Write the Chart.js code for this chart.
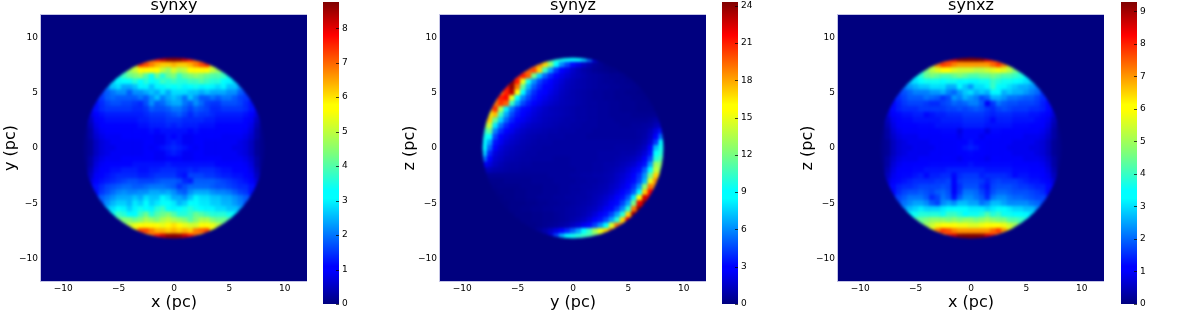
<!DOCTYPE html>
<html>
<head>
<meta charset="utf-8">
<script src="https://cdn.jsdelivr.net/npm/chart.js@4"></script>
<style>
html, body { margin: 0; padding: 0; background: #fff; overflow: hidden; }
canvas { position: absolute; top: 0; }
</style>
</head>
<body>
<canvas id="plot1"></canvas><canvas id="bar1"></canvas>
<canvas id="plot2"></canvas><canvas id="bar2"></canvas>
<canvas id="plot3"></canvas><canvas id="bar3"></canvas>
<script>
var axisTicks = [-10, -5, 0, 5, 10];
var barTicks1 = [0, 1, 2, 3, 4, 5, 6, 7, 8];
var barTicks2 = [0, 3, 6, 9, 12, 15, 18, 21, 24];
var barTicks3 = [0, 1, 2, 3, 4, 5, 6, 7, 8, 9];
var barMax1 = 8.76;
var barMax2 = 24.3;
var barMax3 = 9.29;

// colour stops of the jet map
var jetStops = [
    [0, '#00007f'], [0.11, '#0000ff'], [0.125, '#0000ff'], [0.35, '#00ffff'], [0.375, '#00ffff'],
    [0.5, '#7dff7a'], [0.64, '#ffff00'], [0.66, '#ffff00'], [0.89, '#ff0000'], [1, '#7f0000']
];

// rows run from the top of the disc to the bottom, 0.5 pc apart, centred on 0. values in tenths
var xyRows = [
    [64,70,76,82,86,87,86,82,76,70,64],
    [44,58,74,72,68,64,62,62,64,62,62,64,68,72,74,58,44],
    [40,46,50,56,58,58,56,50,46,52,48,50,56,58,58,56,50,46,40],
    [30,34,38,42,44,46,40,34,42,36,42,44,38,42,44,46,44,42,40,40,38,34,30],
    [24,28,30,32,32,36,32,36,32,34,38,36,38,36,36,38,38,40,38,36,36,32,30,28,24],
    [20,22,26,28,24,24,26,30,30,26,30,30,34,32,34,30,32,34,30,32,30,28,30,26,26,22,20],
    [16,18,20,22,22,18,22,22,24,26,24,28,24,28,28,28,26,26,24,26,24,24,24,22,22,18,16],
    [14,15,18,19,18,18,18,18,20,18,22,26,21,24,26,24,20,26,22,18,18,20,18,20,20,18,16,15,14],
    [12,14,16,17,17,16,16,15,14,17,22,18,19,22,24,24,20,18,22,19,16,15,15,17,17,17,16,14,12],
    [10,12,14,15,15,15,15,15,14,14,15,18,17,17,18,20,20,18,16,18,17,16,14,14,15,15,15,15,14,12,10],
    [7,10,12,13,13,13,13,13,13,13,14,15,15,15,16,17,18,16,14,16,15,15,14,13,13,13,13,13,12,10,7],
    [1,5,9,11,12,12,12,12,12,12,13,13,14,14,14,15,15,15,14,14,14,14,13,13,12,12,12,12,12,11,9,5,1],
    [1,4,8,10,11,11,11,11,11,11,12,12,13,13,13,14,13,14,13,13,13,12,12,12,11,11,11,11,11,10,8,4,1],
    [1,3,7,9,10,10,10,10,10,11,11,11,12,11,12,12,12,12,12,11,12,11,11,11,10,10,10,10,10,9,7,3,1],
    [1,3,6,8,9,9,9,10,10,10,10,10,10,9,9,12,10,12,9,9,10,10,10,10,10,9,9,9,9,8,6,3,1],
    [1,2,5,7,8,9,9,9,9,9,9,10,10,9,9,12,13,12,9,9,10,10,9,9,9,9,9,9,8,7,5,2,1],
    [1,2,5,7,8,8,9,9,9,9,9,10,9,10,12,13,14,13,12,10,9,10,9,9,9,9,9,8,8,7,5,2,1],
    [1,2,5,7,8,9,9,9,9,9,9,10,10,9,9,12,13,12,9,9,10,10,9,9,9,9,9,9,8,7,5,2,1],
    [1,3,6,8,9,9,9,10,10,10,10,10,10,9,9,11,10,11,9,9,10,10,10,10,10,9,9,9,9,8,6,3,1],
    [1,3,7,9,10,11,11,11,11,12,12,12,12,12,12,13,12,12,12,12,12,12,12,12,11,11,10,10,10,9,7,3,1],
    [1,4,8,10,11,12,12,13,13,13,12,12,13,13,14,14,14,13,13,14,13,14,14,14,13,12,12,11,11,10,8,4,1],
    [1,5,9,11,12,13,14,14,14,14,13,13,14,15,15,15,15,13,12,16,16,16,15,15,14,13,13,12,12,11,9,5,1],
    [7,10,12,13,14,15,16,17,17,16,16,16,17,18,18,18,17,14,13,18,18,18,18,17,16,15,14,13,12,10,7],
    [10,12,14,16,17,18,19,19,18,18,19,20,20,20,19,18,15,17,19,19,19,19,18,17,17,16,15,14,14,12,10],
    [12,15,17,19,21,22,21,21,22,22,24,24,23,24,22,19,18,22,24,24,24,22,21,21,20,18,16,15,12],
    [15,18,20,22,24,24,24,26,24,28,26,26,30,28,24,24,22,26,30,28,28,26,26,24,24,22,20,18,15],
    [18,22,25,27,27,25,29,27,31,27,29,33,33,29,25,27,31,31,29,29,27,27,25,25,23,21,18],
    [22,26,28,32,30,27,30,34,32,30,36,38,32,30,32,34,36,34,32,30,30,28,28,26,26,24,22],
    [28,34,38,36,32,32,38,42,36,40,42,44,40,36,36,38,42,40,38,36,36,36,34,30,28],
    [36,42,44,44,42,44,48,46,44,48,50,48,46,44,40,44,48,48,44,42,42,40,36],
    [44,50,54,56,58,58,56,54,58,60,58,54,52,52,56,56,54,50,44],
    [54,60,72,72,68,64,64,62,64,62,64,62,68,70,72,58,52],
    [64,70,76,82,86,87,86,82,76,70,62]
];

var yzRows = [
    [130,110,100,95,92,90,85,75,55,25,8],
    [170,185,185,170,125,85,60,45,32,22,15,10,6,4,2,1,1],
    [190,195,200,170,105,65,42,30,22,16,12,9,7,5,4,3,2,2,1],
    [180,205,210,195,120,75,52,38,30,22,18,14,12,10,8,7,6,5,4,4,3,2,2],
    [190,240,210,150,95,62,45,35,28,22,18,14,12,10,9,8,7,6,5,5,4,4,3,3,2],
    [200,210,240,190,115,70,50,38,30,25,20,16,13,11,10,9,8,7,6,6,5,5,4,4,3,3,2],
    [190,210,230,155,85,55,40,32,27,22,18,14,12,10,9,8,7,6,6,5,5,4,4,3,3,2,2],
    [180,210,215,150,90,60,45,35,28,23,19,16,13,11,10,9,8,7,6,6,5,5,4,4,4,3,3,2,2],
    [190,205,195,105,66,46,36,29,23,19,16,14,12,11,10,9,8,7,7,6,6,5,5,4,4,4,3,3,2],
    [170,205,135,82,56,40,32,26,21,18,15,13,12,11,10,9,8,8,7,7,6,6,5,5,4,4,4,3,3,3,2],
    [165,175,105,66,46,35,28,23,19,16,14,13,12,11,10,9,8,8,7,7,6,6,5,5,5,5,4,4,4,4,4],
    [165,170,115,76,52,38,29,24,20,17,15,13,12,11,10,9,9,8,8,7,7,6,6,6,5,5,5,5,5,5,6,8,8],
    [130,140,80,54,38,29,23,19,16,14,13,12,11,10,9,9,8,8,7,7,7,6,6,6,6,5,5,6,6,7,8,12,16],
    [105,115,58,40,29,23,18,15,13,12,11,10,9,9,8,8,8,7,7,7,6,6,6,6,6,6,6,6,7,8,12,20,34],
    [95,85,44,30,22,18,15,13,11,10,9,9,8,8,8,7,7,7,7,6,6,6,6,6,6,6,6,6,7,9,14,26,55],
    [88,65,34,24,18,15,13,11,10,9,8,8,8,7,7,7,7,7,7,7,7,7,7,7,7,7,7,7,8,11,18,42,85],
    [85,52,26,19,15,13,11,10,9,8,8,7,7,7,7,7,7,7,7,7,7,7,7,7,8,8,8,8,10,14,26,70,95],
    [75,38,20,16,13,11,10,9,8,8,7,7,7,7,7,7,7,7,7,7,7,8,8,8,8,9,9,10,13,19,34,85,100],
    [55,28,17,14,11,10,9,8,8,7,7,7,7,6,6,6,7,7,7,7,7,8,8,8,9,10,11,13,17,25,45,100,110],
    [30,20,14,11,9,8,8,7,7,6,6,6,6,6,6,6,7,7,7,7,8,8,9,9,10,12,14,17,23,34,65,130,125],
    [14,12,10,9,8,7,7,6,6,6,6,6,6,6,6,6,6,7,7,7,8,8,9,10,12,14,18,23,32,50,85,140,130],
    [5,5,5,5,5,5,5,5,5,5,5,5,6,6,6,6,7,7,8,8,9,9,10,11,14,17,21,28,40,62,120,170,150],
    [3,3,3,4,4,4,4,4,5,5,5,5,6,6,6,6,7,7,8,8,9,10,12,15,19,24,32,45,70,150,185],
    [2,2,3,3,3,3,4,4,4,4,5,5,5,6,6,7,7,8,8,9,10,11,14,17,22,29,40,62,125,190,185],
    [1,2,2,2,3,3,4,4,4,5,5,5,6,6,7,7,8,9,10,11,13,16,21,27,36,50,85,170,215],
    [1,1,2,2,3,3,4,4,5,5,5,6,6,7,7,8,8,9,11,13,16,20,26,34,48,80,160,225,220],
    [1,1,2,2,2,3,3,4,4,5,5,6,6,7,8,9,10,12,15,19,25,32,45,65,120,220,240],
    [1,1,2,2,3,3,4,4,5,5,6,6,7,8,9,10,12,14,18,24,31,42,60,100,190,240,230],
    [1,1,2,2,2,3,3,4,4,5,6,7,8,9,11,14,19,25,33,45,65,100,170,235,230],
    [1,1,2,2,3,3,4,4,5,6,7,9,11,14,19,26,34,46,65,100,170,215,205],
    [1,2,2,3,4,5,6,8,10,14,18,24,32,44,62,90,145,190,185],
    [1,3,5,9,14,20,28,38,50,65,85,105,130,150,170,190,185],
    [8,20,45,70,85,95,100,105,110,120,140]
];

var xzRows = [
    [68,80,86,92,93,93,93,92,86,80,68],
    [46,56,72,78,76,72,70,70,70,70,70,70,74,78,72,56,46],
    [40,46,52,56,60,60,56,54,54,54,52,52,54,56,58,56,52,46,40],
    [30,34,38,44,46,44,42,42,44,46,44,42,42,44,44,46,44,42,42,40,38,34,30],
    [24,28,30,34,36,36,36,34,36,36,32,34,32,32,36,36,40,38,36,36,34,32,30,28,24],
    [20,22,24,26,28,28,30,30,30,26,26,32,28,24,30,30,32,40,34,32,30,28,26,26,24,22,20],
    [16,18,20,22,22,22,24,24,26,22,20,24,28,30,26,28,26,32,32,26,28,26,26,24,22,20,16],
    [14,15,17,19,19,19,21,20,19,16,18,24,22,26,24,22,18,20,26,26,24,21,21,20,19,19,17,15,14],
    [12,14,16,17,17,17,16,15,15,17,18,20,19,20,22,22,19,10,16,21,19,18,18,17,17,17,16,14,12],
    [9,12,14,15,15,15,16,16,16,16,16,17,17,18,17,18,19,18,16,15,17,18,17,16,16,16,15,15,14,12,9],
    [7,10,12,13,13,14,14,12,13,14,14,15,15,15,16,16,16,16,15,14,15,15,15,14,14,14,13,13,12,10,7],
    [1,5,9,11,12,12,13,13,13,13,13,14,14,14,14,15,15,15,15,14,12,14,14,14,13,13,13,13,12,11,9,5,1],
    [1,4,8,10,11,11,11,12,12,12,13,13,13,13,13,14,14,14,14,13,13,13,13,13,12,12,12,11,11,10,8,4,1],
    [1,3,7,9,10,10,10,11,11,11,11,12,12,12,8,12,12,12,12,8,12,12,11,11,11,11,10,10,10,9,7,3,1],
    [1,3,6,8,9,9,9,10,10,10,10,11,11,11,9,12,12,12,9,11,11,11,10,10,10,10,9,9,9,8,6,3,1],
    [1,2,5,7,8,9,9,9,9,10,10,10,10,10,11,11,13,11,11,10,10,10,10,10,9,9,9,9,8,7,5,2,1],
    [1,2,5,7,8,8,9,9,9,9,10,10,10,10,11,13,14,13,11,10,10,10,10,9,9,9,9,8,8,7,5,2,1],
    [1,2,5,7,8,9,9,9,9,10,10,10,10,10,11,11,12,11,11,10,10,10,10,10,9,9,9,9,8,7,5,2,1],
    [1,3,6,8,9,9,9,10,10,10,10,11,11,10,9,11,11,11,10,9,11,11,10,10,10,10,9,9,9,8,6,3,1],
    [1,3,7,9,10,10,11,11,11,12,12,12,12,12,12,12,13,12,12,12,12,12,12,12,11,11,11,10,10,9,7,3,1],
    [1,4,8,10,11,11,12,12,13,13,13,13,14,14,14,14,14,14,14,13,13,13,13,13,12,12,12,11,11,10,8,4,1],
    [1,5,9,11,12,12,13,14,12,14,14,15,15,12,15,16,16,16,14,15,15,15,15,14,12,13,13,12,12,11,9,5,1],
    [7,10,12,13,14,15,15,15,15,16,16,17,11,16,17,17,17,16,14,16,17,16,16,16,15,14,13,13,12,10,7],
    [10,12,14,15,15,16,17,17,17,17,18,17,10,15,18,18,18,15,13,17,18,18,18,17,16,16,15,14,14,12,10],
    [12,15,17,18,18,19,18,17,19,20,18,10,16,21,21,20,17,14,18,20,20,19,18,18,18,17,16,15,12],
    [15,17,19,21,21,21,19,15,17,21,19,13,19,23,23,21,19,15,21,23,23,21,20,20,19,18,17,17,15],
    [18,21,23,25,25,23,19,17,23,25,23,27,27,25,25,21,23,27,27,25,23,23,23,23,21,20,18],
    [22,24,27,29,31,29,29,29,31,33,33,33,33,31,31,31,29,31,35,33,31,29,29,27,27,24,22],
    [28,32,36,38,38,38,38,36,40,40,38,34,36,36,38,42,38,40,36,36,34,34,32,30,28],
    [36,42,44,46,48,48,48,46,48,46,48,48,46,48,50,48,46,46,42,42,40,38,36],
    [44,50,54,58,60,60,60,58,58,56,56,58,60,60,60,58,54,50,44],
    [54,62,72,78,76,72,70,70,70,70,70,70,74,78,70,62,52],
    [68,80,86,92,93,93,93,92,86,80,68]
];

var FONT = '"DejaVu Sans", sans-serif';
var CELL = 0.5;
var DISC_R = 8.15;
var NAVY = '#00007f';

function hexToRgb(h) {
    return [parseInt(h.substr(1, 2), 16), parseInt(h.substr(3, 2), 16), parseInt(h.substr(5, 2), 16)];
}

function jetColor(f) {
    for (var i = 1; i < jetStops.length; i++) {
        if (f <= jetStops[i][0]) {
            var a = jetStops[i - 1], b = jetStops[i];
            var t = (f - a[0]) / (b[0] - a[0]);
            var ca = hexToRgb(a[1]), cb = hexToRgb(b[1]);
            return 'rgb(' + Math.round(ca[0] + (cb[0] - ca[0]) * t) + ',' +
                Math.round(ca[1] + (cb[1] - ca[1]) * t) + ',' +
                Math.round(ca[2] + (cb[2] - ca[2]) * t) + ')';
        }
    }
    return jetStops[jetStops.length - 1][1];
}

function rowsToCells(rows) {
    var cells = [];
    rows.forEach(function (row, r) {
        row.forEach(function (v, i) {
            cells.push({ x: (i - (row.length - 1) / 2) * CELL, y: 8 - r * CELL, v: v / 10 });
        });
    });
    return cells;
}

function minusLabel(v) {
    return v < 0 ? '\u2212' + Math.abs(v) : String(v);
}

// navy ground, cells clipped to the disc, soft image look over them, pale frame last
var heatPlugin = {
    id: 'heatGround',
    beforeDatasetsDraw: function (chart) {
        var a = chart.chartArea, c = chart.ctx, sx = chart.scales.x, sy = chart.scales.y;
        c.save();
        c.fillStyle = NAVY;
        c.fillRect(a.left, a.top, a.width, a.height);
        c.beginPath();
        c.arc(sx.getPixelForValue(0), sy.getPixelForValue(0),
            sx.getPixelForValue(DISC_R) - sx.getPixelForValue(0), 0, Math.PI * 2);
        c.clip();
    },
    afterDatasetsDraw: function (chart) {
        var a = chart.chartArea, c = chart.ctx;
        c.restore();
        c.save();
        c.beginPath();
        c.rect(a.left, a.top, a.width, a.height);
        c.clip();
        c.filter = 'blur(1.5px)';
        c.drawImage(chart.canvas, a.left, a.top, a.width, a.height, a.left, a.top, a.width, a.height);
        c.restore();
        c.save();
        c.strokeStyle = '#c4c4e6';
        c.lineWidth = 1;
        c.strokeRect(a.left - 0.5, a.top - 0.5, a.width + 1, a.height + 1);
        c.restore();
    }
};

var barTickPlugin = {
    id: 'barInnerTicks',
    afterDraw: function (chart) {
        var s = chart.scales.y, a = chart.chartArea, c = chart.ctx;
        c.save();
        c.strokeStyle = 'rgba(0,0,0,0.7)';
        c.lineWidth = 1;
        s.ticks.forEach(function (t) {
            var y = Math.round(s.getPixelForValue(t.value)) + 0.5;
            c.beginPath();
            c.moveTo(a.right - 3, y);
            c.lineTo(a.right, y);
            c.stroke();
        });
        c.restore();
    }
};

function place(id, left, width) {
    var el = document.getElementById(id);
    el.style.left = left + 'px';
    el.style.width = width + 'px';
    el.style.height = '313px';
    el.width = width;
    el.height = 313;
    return el;
}

function drawPanel(id, left, rows, vmax, title, xName, yName) {
    new Chart(place(id, left, 307), {
        type: 'scatter',
        data: {
            datasets: [{
                data: rowsToCells(rows),
                pointStyle: 'rect',
                borderWidth: 0,
                pointRadius: function (ctx) {
                    var s = ctx.chart.scales.x;
                    var w = Math.abs(s.getPixelForValue(CELL) - s.getPixelForValue(0));
                    return (w + 0.6) / Math.SQRT2;
                },
                backgroundColor: function (ctx) {
                    return ctx.raw ? jetColor(ctx.raw.v / vmax) : NAVY;
                }
            }]
        },
        plugins: [heatPlugin],
        options: {
            responsive: false,
            animation: false,
            events: [],
            layout: { padding: 0 },
            plugins: {
                legend: { display: false },
                tooltip: { enabled: false },
                title: {
                    display: true,
                    text: title,
                    color: '#000',
                    fullSize: false,
                    font: { family: FONT, size: 16, weight: 'normal', lineHeight: 0.75 },
                    padding: { top: 0, bottom: 3 }
                }
            },
            scales: {
                x: {
                    type: 'linear',
                    min: -12,
                    max: 12,
                    afterBuildTicks: function (s) {
                        s.ticks = axisTicks.map(function (v) { return { value: v }; });
                    },
                    afterFit: function (s) { s.height = 32; },
                    grid: { display: false, drawTicks: false },
                    border: { display: false },
                    ticks: {
                        color: '#000',
                        padding: 2,
                        maxRotation: 0,
                        font: { family: FONT, size: 9 },
                        callback: minusLabel
                    },
                    title: {
                        display: true,
                        text: xName,
                        color: '#000',
                        font: { family: FONT, size: 16 },
                        padding: { top: 0, bottom: 1 }
                    }
                },
                y: {
                    type: 'linear',
                    min: -12,
                    max: 12,
                    afterBuildTicks: function (s) {
                        s.ticks = axisTicks.map(function (v) { return { value: v }; });
                    },
                    afterFit: function (s) { s.width = 41; },
                    grid: { display: false, drawTicks: false },
                    border: { display: false },
                    ticks: {
                        color: '#000',
                        padding: 3,
                        font: { family: FONT, size: 9 },
                        callback: minusLabel
                    },
                    title: {
                        display: true,
                        text: yName,
                        color: '#000',
                        font: { family: FONT, size: 16 },
                        padding: { top: 1, bottom: 0 }
                    }
                }
            }
        }
    });
}

function drawColorbar(id, left, vmax, tickList) {
    new Chart(place(id, left, 46), {
        type: 'bar',
        data: {
            labels: [''],
            datasets: [{
                data: [[0, vmax]],
                barPercentage: 1,
                categoryPercentage: 1,
                borderWidth: 0,
                backgroundColor: function (ctx) {
                    var a = ctx.chart.chartArea;
                    if (!a) return NAVY;
                    var g = ctx.chart.ctx.createLinearGradient(0, a.bottom, 0, a.top);
                    jetStops.forEach(function (st) { g.addColorStop(st[0], st[1]); });
                    return g;
                }
            }]
        },
        plugins: [barTickPlugin],
        options: {
            responsive: false,
            animation: false,
            events: [],
            layout: { padding: { top: 2, bottom: 9 } },
            plugins: { legend: { display: false }, tooltip: { enabled: false } },
            scales: {
                x: { display: false },
                y: {
                    position: 'right',
                    min: 0,
                    max: vmax,
                    afterBuildTicks: function (s) {
                        s.ticks = tickList.map(function (v) { return { value: v }; });
                    },
                    afterFit: function (s) {
                        s.width = 30;
                        // no room kept for half a label, the bar fills the full height
                        s.paddingTop = 0;
                        s.paddingBottom = 0;
                    },
                    grid: { display: false, drawTicks: false },
                    border: { display: false },
                    ticks: {
                        color: '#000',
                        padding: 3,
                        font: { family: FONT, size: 9 },
                        autoSkip: false
                    }
                }
            }
        }
    });
}

drawPanel('plot1', 0, xyRows, barMax1, 'synxy', 'x (pc)', 'y (pc)');
drawColorbar('bar1', 323, barMax1, barTicks1);
drawPanel('plot2', 399, yzRows, barMax2, 'synyz', 'y (pc)', 'z (pc)');
drawColorbar('bar2', 722, barMax2, barTicks2);
drawPanel('plot3', 797, xzRows, barMax3, 'synxz', 'x (pc)', 'z (pc)');
drawColorbar('bar3', 1121, barMax3, barTicks3);
</script>
</body>
</html>
